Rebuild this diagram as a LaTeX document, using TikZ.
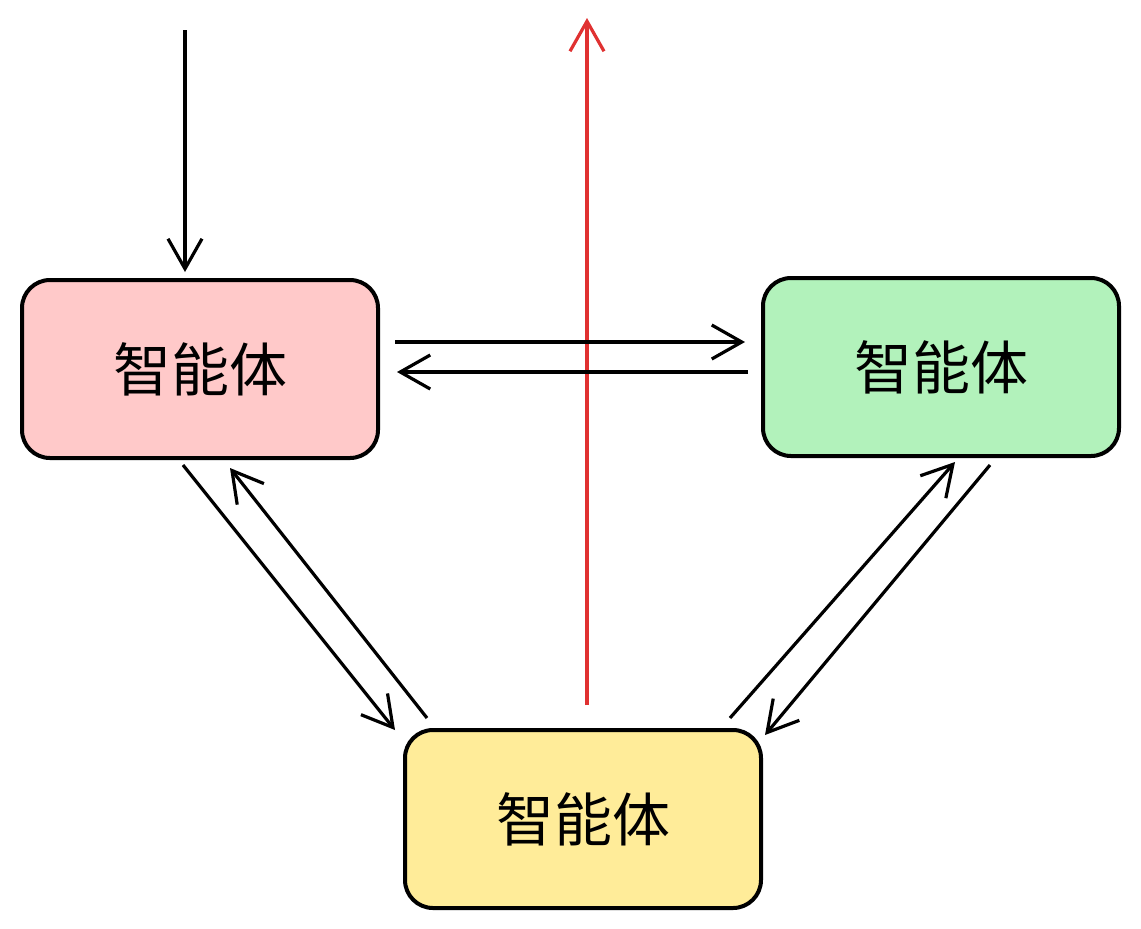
\documentclass[tikz,border=0pt]{standalone}
\usepackage{fontspec}
\newfontfamily\cjk{Noto Sans CJK SC}
\usetikzlibrary{arrows.meta}
\definecolor{cred}{HTML}{FFC9C9}
\definecolor{cgreen}{HTML}{B2F2BB}
\definecolor{cyellow}{HTML}{FFEC99}
\definecolor{ared}{HTML}{E03131}
\begin{document}
\begin{tikzpicture}[x=0.5pt,y=-0.5pt,
  box/.style={draw=black,line width=2pt,rounded corners=14pt,minimum width=178pt,minimum height=89pt,font=\cjk\fontsize{29}{32}\selectfont},
  arr/.style={line width=1.6pt,-{Straight Barb[length=15pt,width=17pt,line width=1.6pt]}}]
\useasboundingbox (0,0) rectangle (1141,928);
\fill[white] (0,0) rectangle (1141,928);
\node[box,fill=cred] (A) at (200,369) {智能体};
\node[box,fill=cgreen] (B) at (941,367) {智能体};
\node[box,fill=cyellow] (C) at (583,819) {智能体};
\coordinate (top) at (185,30);
\coordinate (atop) at (185,272);
\coordinate (rs) at (587,705);
\coordinate (re) at (587,18);
\coordinate (h1) at (395,342); \coordinate (h2) at (745,342);
\coordinate (h3) at (748,372); \coordinate (h4) at (397,372);
\draw[arr] (top) -- (atop);
\draw[arr,draw=ared] (rs) -- (re);
\draw[arr] (h1) -- (h2);
\draw[arr] (h3) -- (h4);
\coordinate (p1) at (183,465); \coordinate (p2) at (395,730);
\coordinate (p3) at (427,718); \coordinate (p4) at (230,468);
\coordinate (q1) at (990,465); \coordinate (q2) at (765,735);
\coordinate (q3) at (730,718); \coordinate (q4) at (955,462);
\draw[arr] (p1) -- (p2);
\draw[arr] (p3) -- (p4);
\draw[arr] (q1) -- (q2);
\draw[arr] (q3) -- (q4);
\end{tikzpicture}
\end{document}
